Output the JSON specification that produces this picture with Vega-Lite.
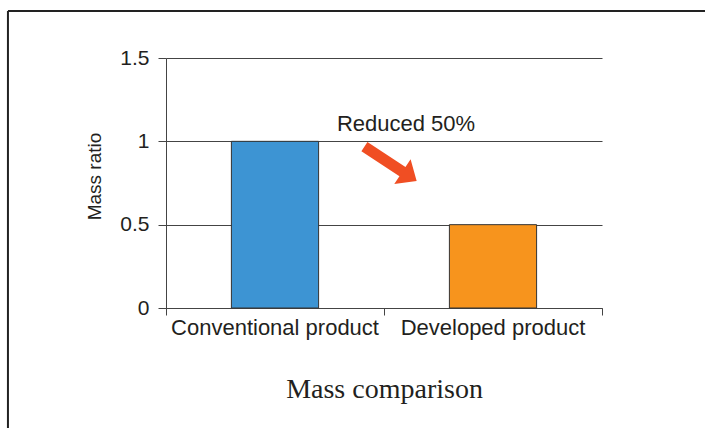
{
  "$schema": "https://vega.github.io/schema/vega-lite/v6.json",
  "width": 436,
  "height": 250,
  "autosize": {"type": "none"},
  "padding": {"left": 166, "top": 58, "right": 103, "bottom": 120},
  "background": "white",
  "config": {
    "view": {"stroke": null},
    "font": "Liberation Sans",
    "axisY": {
      "titleFontSize": 19, "titleFontWeight": "normal", "titleColor": "#231f20",
      "titleBaseline": "alphabetic", "titleX": -66, "titleY": 118, "titleAngle": -90,
      "labelFontSize": 21, "labelColor": "#231f20", "tickSize": 8, "labelPadding": 9,
      "gridColor": "#444444", "domainColor": "#444444", "tickColor": "#444444"
    }
  },
  "datasets": {
    "bars": [
      {"product": "Conventional product", "ratio": 1},
      {"product": "Developed product", "ratio": 0.5}
    ],
    "frame": [
      {"x": -0.725, "y": 1.782, "x2": 2.6, "y2": 1.782},
      {"x": -0.725, "y": 1.782, "x2": -0.725, "y2": -0.8}
    ],
    "note": [{"label": "Reduced 50%", "x": 1.101, "y": 1.062}],
    "arrow": [{"x": 1.03, "y": 0.865}]
  },
  "layer": [
    {
      "data": {"name": "bars"},
      "mark": {"type": "bar", "stroke": "#333333", "strokeWidth": 1},
      "encoding": {
        "x": {
          "field": "product", "type": "nominal", "sort": null,
          "scale": {"paddingInner": 0.6, "paddingOuter": 0.3},
          "axis": {
            "orient": "bottom", "domain": false, "ticks": false, "tickSize": 0,
            "labelPadding": 9, "labelFontSize": 22, "labelColor": "#231f20", "labelAngle": 0, "labelLimit": 400,
            "title": "Mass comparison", "titleFont": "Liberation Serif", "titleFontSize": 28,
            "titleFontWeight": "normal", "titleColor": "#231f20", "titleBaseline": "alphabetic", "titleY": 89
          }
        },
        "y": {
          "field": "ratio", "type": "quantitative",
          "scale": {"domain": [0, 1.5], "nice": false, "zero": false},
          "axis": {
            "values": [0, 0.5, 1, 1.5], "format": "~g", "grid": true, "gridWidth": 1,
            "title": "Mass ratio"
          }
        },
        "color": {
          "field": "product", "type": "nominal",
          "scale": {"range": ["#3d94d3", "#f7941d"]}, "legend": null
        }
      }
    },
    {
      "layer": [
        {
          "data": {"name": "frame"},
          "mark": {"type": "rule", "stroke": "#222222", "strokeWidth": 2},
          "encoding": {
            "x": {
              "field": "x", "type": "quantitative",
              "scale": {"domain": [0, 2], "nice": false, "zero": false},
              "axis": {
                "orient": "bottom", "values": [0, 1, 2], "labels": false, "ticks": true, "tickSize": 7,
                "tickColor": "#444444", "domain": true, "domainColor": "#444444", "grid": false, "title": null
              }
            },
            "x2": {"field": "x2"},
            "y": {"field": "y", "type": "quantitative", "scale": {"domain": [0, 1.5], "nice": false, "zero": false}, "title": "Mass ratio"},
            "y2": {"field": "y2"}
          }
        },
        {
          "data": {"name": "note"},
          "mark": {"type": "text", "fontSize": 22, "align": "center", "baseline": "alphabetic", "color": "#231f20"},
          "encoding": {
            "x": {"field": "x", "type": "quantitative"},
            "y": {"field": "y", "type": "quantitative", "title": "Mass ratio"},
            "text": {"field": "label"}
          }
        },
        {
          "data": {"name": "arrow"},
          "mark": {
            "type": "point", "filled": true, "opacity": 1, "color": "#f04e23", "size": 3906, "angle": 33.3,
            "shape": "M -1 -0.176 L 0.456 -0.176 L 0.456 -0.475 L 1 0 L 0.456 0.475 L 0.456 0.176 L -1 0.176 Z"
          },
          "encoding": {
            "x": {"field": "x", "type": "quantitative"},
            "y": {"field": "y", "type": "quantitative", "title": "Mass ratio"}
          }
        }
      ]
    }
  ],
  "resolve": {"scale": {"x": "independent", "color": "independent"}}
}
